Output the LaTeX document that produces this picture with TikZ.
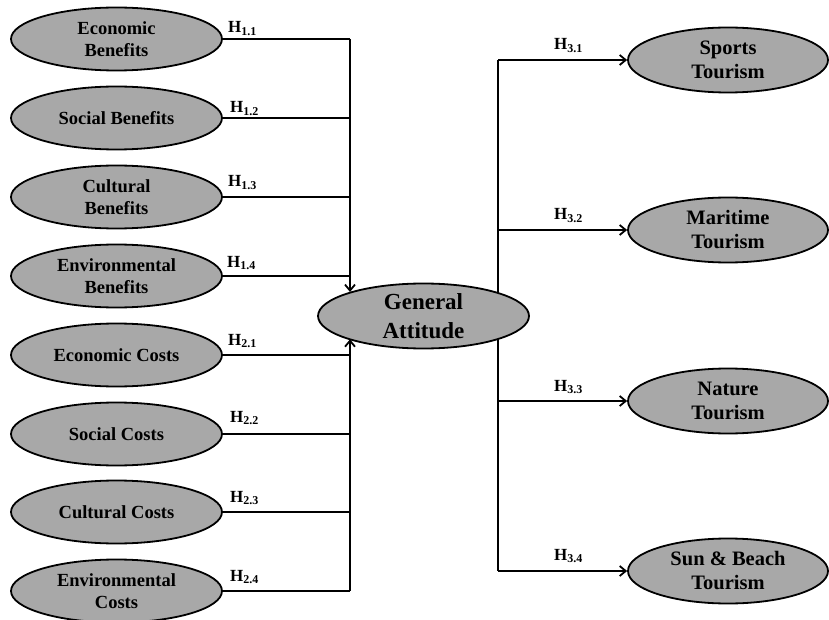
\documentclass[tikz,border=0pt]{standalone}
\usepackage{fontspec}
\setmainfont{Liberation Serif}
\usetikzlibrary{shapes.geometric,arrows.meta}
\definecolor{ellfill}{RGB}{168,168,168}
\tikzset{
  ell/.style={ellipse, draw=black, line width=1.8pt, fill=ellfill, inner sep=0pt,
    align=center, font=\bfseries\fontsize{18.5}{22}\selectfont},
  lell/.style={ell, minimum width=211pt, minimum height=63pt},
  rell/.style={ell, minimum width=200pt, minimum height=65pt, font=\bfseries\fontsize{20.5}{24}\selectfont},
  gell/.style={ell, minimum width=211pt, minimum height=65pt, font=\bfseries\fontsize{23}{29}\selectfont},
  conn/.style={line width=1.9pt},
  arr/.style={line width=1.9pt, -{Straight Barb[length=6pt,width=10pt,line width=1.8pt]}},
  hlab/.style={anchor=base west, inner sep=0pt, font=\bfseries\fontsize{17}{19}\selectfont}
}
\newcommand{\hsub}[1]{H\textsubscript{\fontsize{12}{14}\selectfont #1}}
\begin{document}
\begin{tikzpicture}[x=1pt,y=-1pt]
\useasboundingbox (0,0) rectangle (829,620);
% left nodes
\node[lell] (l1) at (116.5,39) {Economic\\Benefits};
\node[lell] (l2) at (116.5,118) {Social Benefits};
\node[lell] (l3) at (116.5,197) {Cultural\\Benefits};
\node[lell] (l4) at (116.5,276) {Environmental\\Benefits};
\node[lell] (l5) at (116.5,355) {Economic Costs};
\node[lell] (l6) at (116.5,434) {Social Costs};
\node[lell] (l7) at (116.5,512) {Cultural Costs};
\node[lell] (l8) at (116.5,591) {Environmental\\Costs};
% right nodes
\node[rell] (r1) at (728,60) {Sports\\Tourism};
\node[rell] (r2) at (728,230) {Maritime\\Tourism};
\node[rell] (r3) at (728,401) {Nature\\Tourism};
\node[rell] (r4) at (728,571) {Sun \& Beach\\Tourism};
\coordinate (busL) at (350,0);
\coordinate (busR) at (498,0);
% right bus (behind general attitude)
\draw[conn] (busR |- r1.west) -- (busR |- r4.west);
\foreach \i in {1,...,4} {
  \draw[arr] (busR |- r\i.west) -- (r\i.west);
}
% central node
\node[gell] (ga) at (423.5,316) {General\\Attitude};
% left connectors
\foreach \i in {1,...,8} {
  \draw[conn] (l\i.east) -- (l\i.east -| busL);
}
\draw[arr] (l1.east -| busL) -- (busL |- ga.162.6);
\draw[arr] (l8.east -| busL) -- (busL |- ga.197.4);
% labels
\node[hlab] (h11) at ([xshift=5pt,yshift=6pt]l1.east) {\hsub{1.1}};
\node[hlab] (h12) at ([xshift=7pt,yshift=5pt]l2.east) {\hsub{1.2}};
\node[hlab] (h13) at ([xshift=5pt,yshift=10pt]l3.east) {\hsub{1.3}};
\node[hlab] (h14) at ([xshift=4pt,yshift=9pt]l4.east) {\hsub{1.4}};
\node[hlab] (h21) at ([xshift=5pt,yshift=10pt]l5.east) {\hsub{2.1}};
\node[hlab] (h22) at ([xshift=7pt,yshift=12pt]l6.east) {\hsub{2.2}};
\node[hlab] (h23) at ([xshift=7pt,yshift=10pt]l7.east) {\hsub{2.3}};
\node[hlab] (h24) at ([xshift=7pt,yshift=10pt]l8.east) {\hsub{2.4}};
\node[hlab] (h31) at ([xshift=56pt,yshift=10pt]busR |- r1.west) {\hsub{3.1}};
\node[hlab] (h32) at ([xshift=56pt,yshift=10pt]busR |- r2.west) {\hsub{3.2}};
\node[hlab] (h33) at ([xshift=56pt,yshift=10pt]busR |- r3.west) {\hsub{3.3}};
\node[hlab] (h34) at ([xshift=56pt,yshift=11pt]busR |- r4.west) {\hsub{3.4}};
\end{tikzpicture}
\end{document}
